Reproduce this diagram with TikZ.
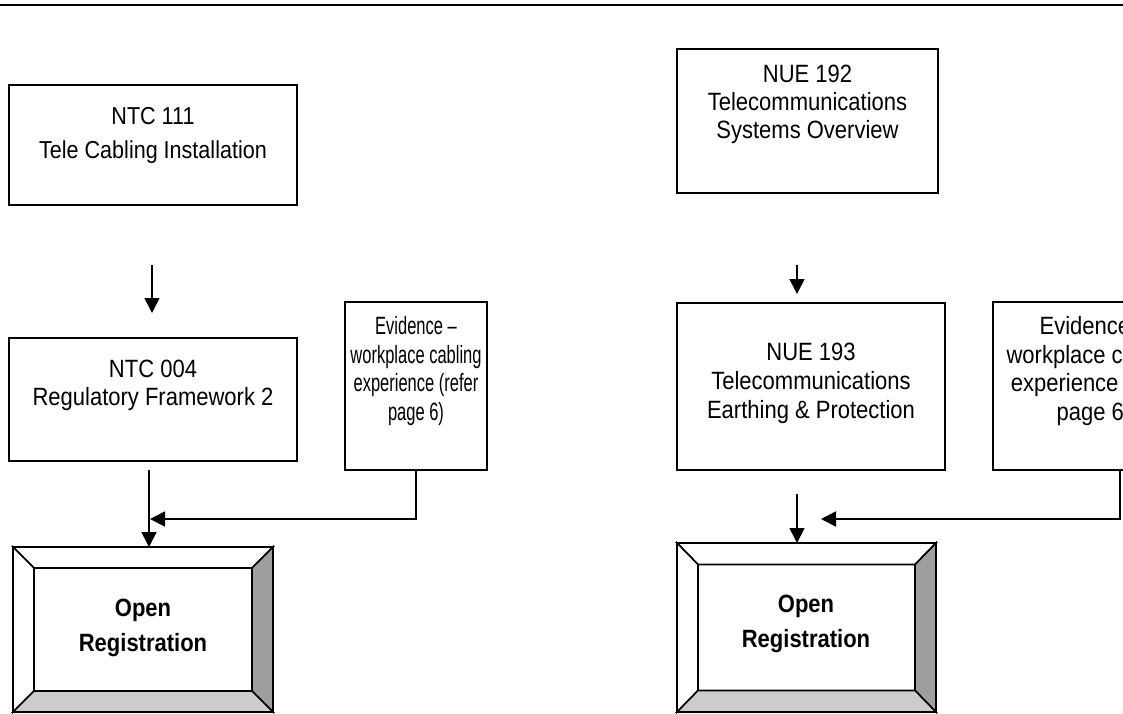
\documentclass[tikz,border=0pt]{standalone}
\usepackage{fontspec}
\setmainfont{Liberation Sans}[FakeStretch=0.88]
\newfontfamily\narrowsans{Liberation Sans}[FakeStretch=0.66,Ligatures=TeX]
\usetikzlibrary{arrows.meta,calc}
\definecolor{bevdark}{gray}{0.62}
\definecolor{bevlight}{gray}{0.8}
\begin{document}
\begin{tikzpicture}[x=1pt,y=-1pt,
  box/.style={draw,line width=1.6pt,inner sep=0pt,outer sep=0pt},
  txt/.style={align=center,inner sep=0pt,font=\fontsize{25}{28}\selectfont},
  rtxt/.style={align=center,inner sep=0pt,font=\fontsize{25}{29}\selectfont},
  wtxt/.style={align=center,inner sep=0pt,font=\fontsize{24.5}{#1}\selectfont},
  etxt/.style={align=center,inner sep=0pt,font=\narrowsans\fontsize{25}{28.7}\selectfont},
  btxt/.style={align=center,inner sep=0pt,font=\fontsize{25}{35}\selectfont\bfseries},
  arr/.style={line width=1.6pt,-{Triangle[width=15pt,length=15pt]}},
  face/.style={draw,line width=1.6pt,line join=miter}]
\useasboundingbox (0,0) rectangle (1123,713);
\clip (0,0) rectangle (1123,713);

% top rule
\draw[line width=2.6pt] (0,5) -- (1123,5);

% left column boxes
\node[box,minimum width=288,minimum height=120] (ntc111) at (153,145) {};
\node[wtxt=34] (ntc111t) at (153,135) {NTC 111\\Tele Cabling Installation};

\node[box,minimum width=288,minimum height=123] (ntc004) at (153,399.5) {};
\node[txt] (ntc004t) at (153,385) {NTC 004\\Regulatory Framework 2};

\node[box,minimum width=142,minimum height=168] (evL) at (416,386) {};
\node[etxt] (evLt) at (416,371) {Evidence –\\workplace cabling\\experience (refer\\page 6)};

% right column boxes
\node[box,minimum width=261,minimum height=144] (nue192) at (807.5,121) {};
\node[rtxt,font=\fontsize{25}{28}\selectfont] (nue192t) at (807.5,104) {NUE 192\\Telecommunications\\Systems Overview};

\node[box,minimum width=268,minimum height=167] (nue193) at (811,386.5) {};
\node[rtxt] (nue193t) at (811,383.5) {NUE 193\\Telecommunications\\Earthing \& Protection};

\node[box,minimum width=200,minimum height=168] (evR) at (1093,386) {};
\node[txt,font=\fontsize{25}{28.7}\selectfont] (evRt) at (1094,371) {Evidence –\\workplace cabling\\experience (refer\\page 6)};

% bevel boxes
\foreach \n/\cx/\cy/\ow/\oh/\iw/\ih in {regL/143/629.5/260/165/218/123, regR/806.5/627.5/259/169/217/126}{
  \node[inner sep=0pt,outer sep=0pt,minimum width=\ow,minimum height=\oh] (\n) at (\cx,\cy) {};
  \node[inner sep=0pt,outer sep=0pt,minimum width=\iw,minimum height=\ih] (\n in) at (\cx,\cy) {};
  \draw[face,fill=white] (\n.north west) -- (\n.north east) -- (\n in.north east) -- (\n in.north west) -- cycle;
  \draw[face,fill=white] (\n.north west) -- (\n in.north west) -- (\n in.south west) -- (\n.south west) -- cycle;
  \draw[face,fill=bevdark] (\n.north east) -- (\n.south east) -- (\n in.south east) -- (\n in.north east) -- cycle;
  \draw[face,fill=bevlight] (\n.south west) -- (\n in.south west) -- (\n in.south east) -- (\n.south east) -- cycle;
  \draw[box] (\n.north west) rectangle (\n.south east);
  \draw[box] (\n in.north west) rectangle (\n in.south east);
}
\node[btxt] (regLt) at (143,627.5) {Open\\Registration};
\node[btxt] (regRt) at (806,624) {Open\\Registration};

% connectors, left
\coordinate (l1s) at ($(ntc111.south)+(-1,60)$);
\coordinate (l1e) at ($(ntc004.north)+(-1,-25)$);
\draw[arr] (l1s) -- (l1e);
\coordinate (l2s) at (149,470);
\draw[arr] (l2s) -- (l2s |- regL.north);
\coordinate (l3e) at (150,519);
\draw[arr] (evL.south) |- (l3e);

% connectors, right
\coordinate (r1s) at ($(nue192.south)+(-10.5,72)$);
\coordinate (r1e) at ($(nue193.north)+(-14,-9)$);
\draw[arr] (r1s) -- (r1e);
\coordinate (r2s) at (797,494);
\draw[arr] (r2s) -- (r2s |- regR.north);
\coordinate (r3s) at ($(evR.south west)+(127,0)$);
\coordinate (r3e) at (821,519);
\draw[arr] (r3s) |- (r3e);
\end{tikzpicture}
\end{document}
